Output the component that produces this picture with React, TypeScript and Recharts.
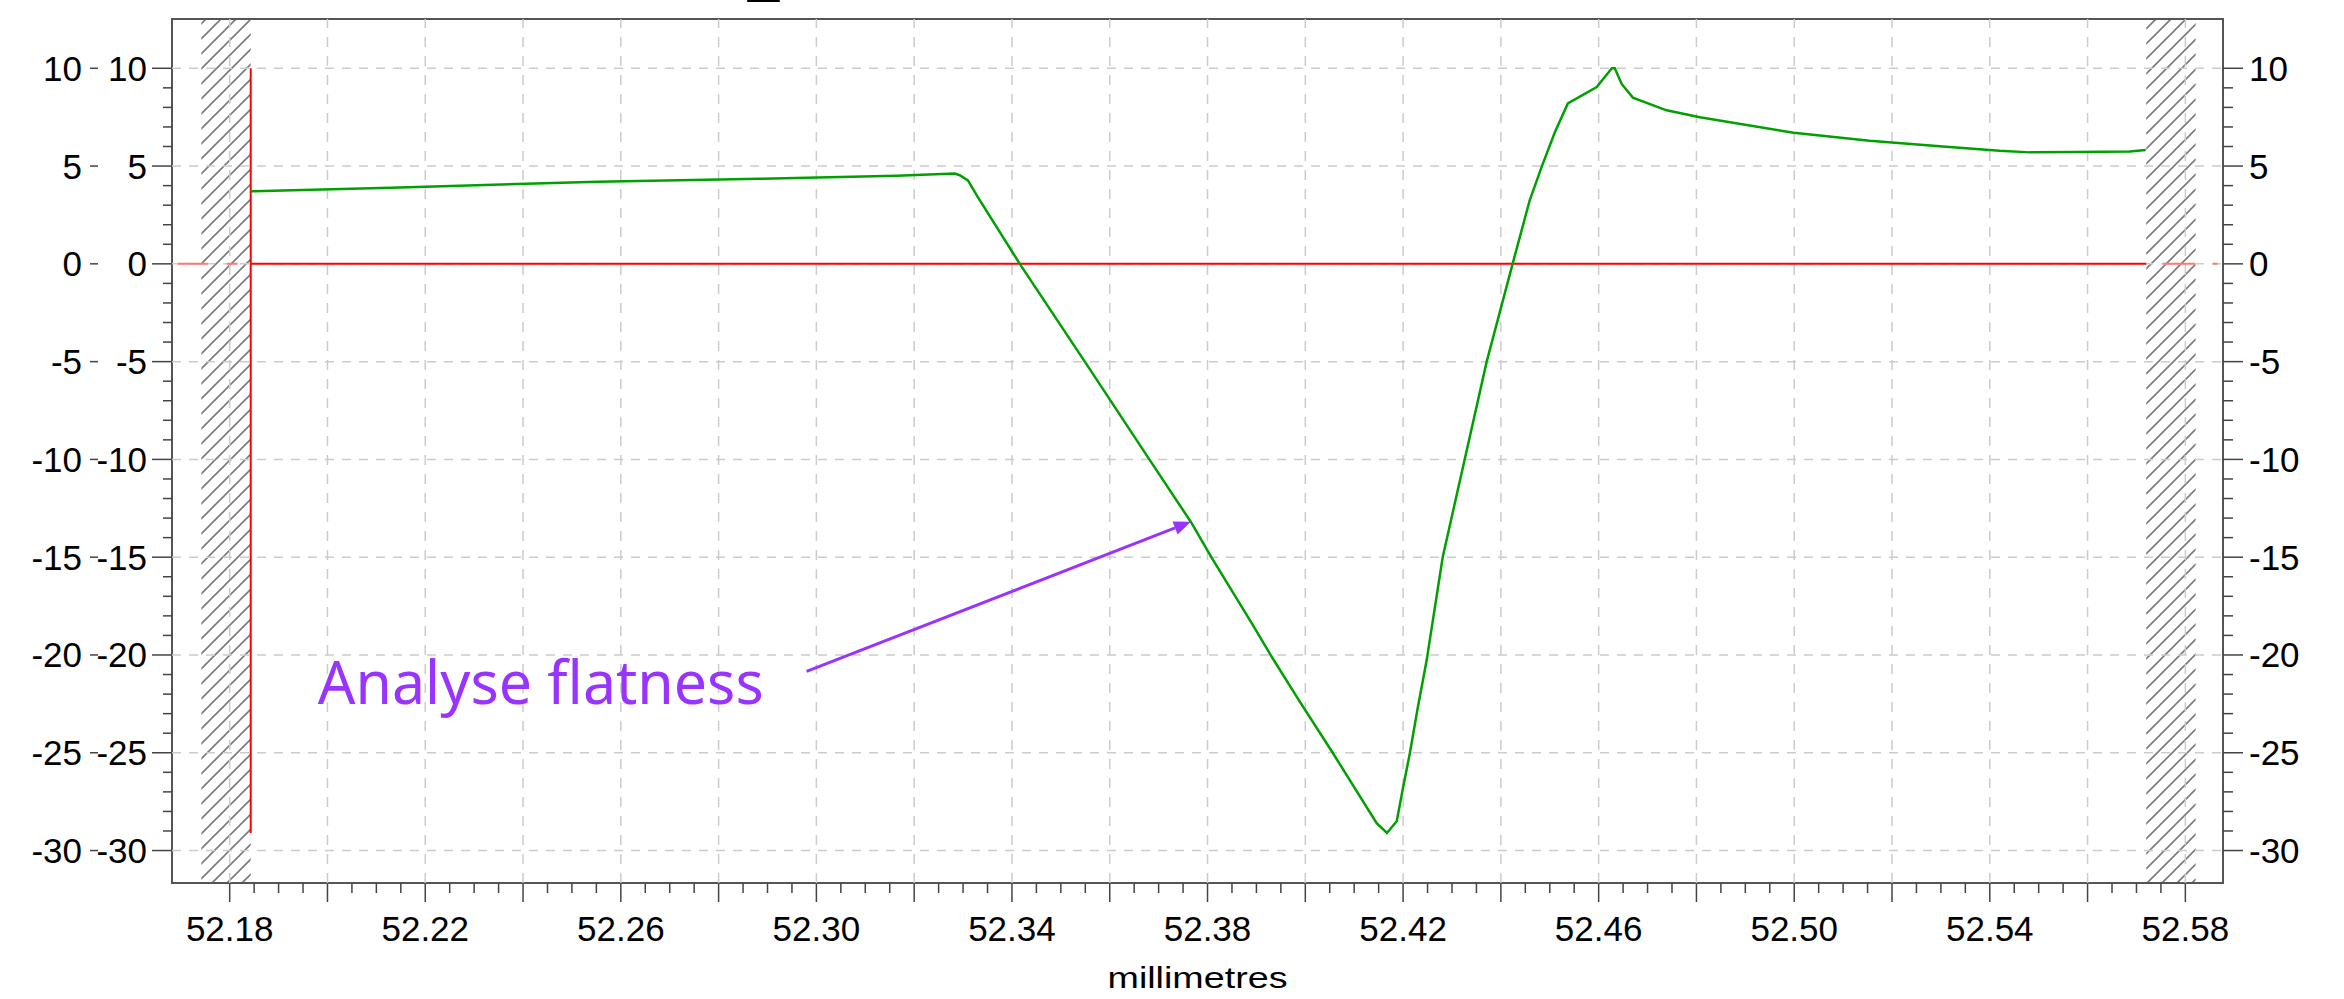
import {
  LineChart,
  Line,
  XAxis,
  YAxis,
  ReferenceLine,
  ReferenceArea,
  ReferenceDot,
} from "recharts";

// measured profile (millimetres vs deviation)
const profileX = [
  52.1843, 52.2148, 52.2553, 52.2884, 52.3164, 52.3283, 52.3293, 52.331, 52.3328, 52.3416,
  52.3549, 52.3681, 52.3766, 52.3809, 52.3891, 52.3929, 52.3989, 52.4056, 52.4146, 52.4167,
  52.4187, 52.4199, 52.4214, 52.423, 52.4248, 52.4281, 52.4326, 52.4371, 52.4424, 52.4459,
  52.4484, 52.451, 52.4537, 52.4596, 52.4627, 52.4633, 52.4647, 52.467, 52.4739, 52.4807,
  52.4999, 52.5154, 52.5304, 52.542, 52.5482, 52.5574, 52.5686, 52.5719,
];
const profileY = [
  3.71, 3.9, 4.2, 4.35, 4.5, 4.62, 4.53, 4.27, 3.5, 0,
  -5, -10, -13.2, -15.05, -18.4, -20, -22.4, -25, -28.6, -29.1,
  -28.5, -26.9, -25, -22.7, -20.3, -15, -10, -5, 0, 3.25,
  5, 6.7, 8.2, 9.04, 10, 10, 9.2, 8.5, 7.85, 7.5,
  6.7, 6.3, 6.0, 5.78, 5.7, 5.72, 5.75, 5.82,
];

const xDomain = [52.1682, 52.5877];
const yDomain = [-31.66, 12.52];

const xLabelTicks = [52.18, 52.22, 52.26, 52.3, 52.34, 52.38, 52.42, 52.46, 52.5, 52.54, 52.58];
const xGridLines = [
  52.18, 52.2, 52.22, 52.24, 52.26, 52.28, 52.3, 52.32, 52.34, 52.36, 52.38,
  52.4, 52.42, 52.44, 52.46, 52.48, 52.5, 52.52, 52.54, 52.56, 52.58,
];
const yLabelTicks = [-30, -25, -20, -15, -10, -5, 0, 5, 10];
const xMinorTicks = Array.from({ length: 81 }, (_, i) => Math.round((52.18 + i * 0.005) * 1000) / 1000);
const yMinorTicks = Array.from({ length: 41 }, (_, i) => i - 30);

// evaluation window (hatched outside) and data range marker
const leftHatch = [52.1742, 52.1843];
const rightHatch = [52.572, 52.5821];
const windowStart = 52.1843;
const windowEnd = 52.572;
const rangeMin = -29.1;
const rangeMax = 10;
const zeroOutsideLeft = [52.1694, 52.1816];
const zeroOutsideRight = [52.5754, 52.5866];

const noteText = "Analyse flatness";
const noteAt = { x: 52.198, y: -22.52 };
const arrowFrom = { x: 52.298, y: -20.84 };
const arrowTo = { x: 52.3766, y: -13.19 };

const FONT = "'Liberation Sans', Arial, Helvetica, sans-serif";
const PURPLE = "#9933ff";

function XTick(props: any) {
  const { x, y, payload } = props;
  const v = payload.value;
  const major = Math.abs(v * 50 - Math.round(v * 50)) < 1e-6;
  const labelled = xLabelTicks.some((t) => Math.abs(t - v) < 1e-6);
  return (
    <g>
      <line x1={x} x2={x} y1={y} y2={y + (major ? 19 : 10)} stroke="#444" strokeWidth={1.5} />
      {labelled && (
        <text x={x} y={y + 58} textAnchor="middle" fontFamily={FONT} fontSize={35} fill="#000">
          {v.toFixed(2)}
        </text>
      )}
    </g>
  );
}

function LeftTick(props: any) {
  const { x, y, payload } = props;
  const v = payload.value;
  const major = v % 5 === 0;
  return (
    <g>
      <line x1={x - (major ? 20 : 9)} x2={x} y1={y} y2={y} stroke="#444" strokeWidth={1.5} />
      {major && (
        <text x={x - 25} y={y + 12.5} textAnchor="end" fontFamily={FONT} fontSize={35} fill="#000">
          {v}
        </text>
      )}
    </g>
  );
}

function OuterTick(props: any) {
  const { x, y, payload } = props;
  return (
    <g>
      <line x1={x - 8} x2={x} y1={y} y2={y} stroke="#444" strokeWidth={1.5} />
      <text x={x - 16} y={y + 12.5} textAnchor="end" fontFamily={FONT} fontSize={35} fill="#000">
        {payload.value}
      </text>
    </g>
  );
}

function RightTick(props: any) {
  const { x, y, payload } = props;
  const v = payload.value;
  const major = v % 5 === 0;
  return (
    <g>
      <line x1={x} x2={x + (major ? 20 : 10)} y1={y} y2={y} stroke="#444" strokeWidth={1.5} />
      {major && (
        <text x={x + 26} y={y + 12.5} textAnchor="start" fontFamily={FONT} fontSize={35} fill="#000">
          {v}
        </text>
      )}
    </g>
  );
}

function AxisTitle(props: any) {
  const vb = props.viewBox || { x: 172, y: 883, width: 2051, height: 116 };
  return (
    <text
      x={vb.x + vb.width / 2}
      y={vb.y + vb.height - 11}
      textAnchor="middle"
      fontFamily={FONT}
      fontSize={29}
      textLength={180}
      lengthAdjust="spacingAndGlyphs"
      fill="#000"
    >
      millimetres
    </text>
  );
}

function Arrow(props: any) {
  const { x1, y1, x2, y2 } = props;
  const a = Math.atan2(y2 - y1, x2 - x1);
  const len = 17;
  const half = 7;
  const bx = x2 - len * Math.cos(a);
  const by = y2 - len * Math.sin(a);
  const pts = `${x2},${y2} ${bx + half * Math.sin(a)},${by - half * Math.cos(a)} ${bx - half * Math.sin(a)},${by + half * Math.cos(a)}`;
  return (
    <g>
      <line x1={x1} y1={y1} x2={bx} y2={by} stroke={PURPLE} strokeWidth={3} />
      <polygon points={pts} fill={PURPLE} />
    </g>
  );
}

export default function App() {
  const data = profileX.map((x, i) => ({ x, y: profileY[i] }));

  return (
    <div style={{ position: "absolute", left: 0, top: 0, width: 2344, height: 999, background: "#fff" }}>
      <LineChart width={2344} height={999} data={data} margin={{ top: 19, right: 0, bottom: 0, left: 0 }}>
        <defs>
          <pattern id="hatch" patternUnits="userSpaceOnUse" width={15} height={15}>
            <path d="M-2,2 L2,-2 M0,15 L15,0 M13,17 L17,13" stroke="#7a7a7a" strokeWidth={1.6} />
          </pattern>
        </defs>
        <XAxis
          type="number"
          dataKey="x"
          domain={xDomain}
          allowDataOverflow
          ticks={xMinorTicks}
          interval={0}
          height={116}
          tickSize={0}
          tickMargin={0}
          axisLine={false}
          tickLine={false}
          tick={(p: any) => <XTick {...p} />}
          label={<AxisTitle />}
        />
        <YAxis
          type="number"
          domain={yDomain}
          allowDataOverflow
          ticks={yMinorTicks}
          interval={0}
          width={74}
          tickSize={0}
          tickMargin={0}
          axisLine={false}
          tickLine={false}
          tick={(p: any) => <LeftTick {...p} />}
        />
        <YAxis
          yAxisId="outer"
          type="number"
          domain={yDomain}
          allowDataOverflow
          ticks={yLabelTicks}
          interval={0}
          width={98}
          tickSize={0}
          tickMargin={0}
          axisLine={false}
          tickLine={false}
          tick={(p: any) => <OuterTick {...p} />}
        />
        <YAxis
          yAxisId="right"
          orientation="right"
          type="number"
          domain={yDomain}
          allowDataOverflow
          ticks={yMinorTicks}
          interval={0}
          width={121}
          tickSize={0}
          tickMargin={0}
          axisLine={false}
          tickLine={false}
          tick={(p: any) => <RightTick {...p} />}
        />

        {xGridLines.map((v) => (
          <ReferenceLine key={`gx-${v}`} x={v} stroke="#cccccc" strokeWidth={1.5} strokeDasharray="10 9" />
        ))}
        {yLabelTicks.map((v) => (
          <ReferenceLine key={`gy-${v}`} y={v} stroke="#cccccc" strokeWidth={1.5} strokeDasharray="9 8" />
        ))}

        <ReferenceArea x1={leftHatch[0]} x2={leftHatch[1]} y1={yDomain[0]} y2={yDomain[1]} fill="url(#hatch)" fillOpacity={1} />
        <ReferenceArea x1={rightHatch[0]} x2={rightHatch[1]} y1={yDomain[0]} y2={yDomain[1]} fill="url(#hatch)" fillOpacity={1} />

        <ReferenceLine
          segment={[{ x: zeroOutsideLeft[0], y: 0 }, { x: zeroOutsideLeft[1], y: 0 }]}
          stroke="#ff7777"
          strokeWidth={2}
          strokeDasharray="30 19"
        />
        <ReferenceLine
          segment={[{ x: zeroOutsideRight[0], y: 0 }, { x: zeroOutsideRight[1], y: 0 }]}
          stroke="#ff7777"
          strokeWidth={2}
          strokeDasharray="32 18"
        />
        <ReferenceLine
          segment={[{ x: windowStart, y: 0 }, { x: windowEnd, y: 0 }]}
          stroke="#ff0000"
          strokeWidth={2}
        />
        <ReferenceLine
          segment={[{ x: windowStart, y: rangeMax }, { x: windowStart, y: rangeMin }]}
          stroke="#ff0000"
          strokeWidth={2}
        />

        <Line
          type="linear"
          dataKey="y"
          stroke="#00a000"
          strokeWidth={2.5}
          dot={false}
          activeDot={false}
          isAnimationActive={false}
        />

        <ReferenceLine segment={[arrowFrom, arrowTo]} shape={(p: any) => <Arrow {...p} />} />
        <ReferenceDot
          x={noteAt.x}
          y={noteAt.y}
          r={0}
          shape={(p: any) => (
            <text
              x={p.cx}
              y={p.cy}
              fontFamily="'Noto Sans', 'Open Sans', sans-serif"
              fontSize={61}
              textLength={446}
              lengthAdjust="spacingAndGlyphs"
              fill={PURPLE}
            >
              {noteText}
            </text>
          )}
        />
        <ReferenceDot
          x={52.286}
          y={yDomain[1]}
          r={0}
          shape={(p: any) => (
            <text x={p.cx} y={p.cy - 28} fontFamily={FONT} fontSize={56} fill="#000">
              _
            </text>
          )}
        />

        <ReferenceArea
          x1={xDomain[0]}
          x2={xDomain[1]}
          y1={yDomain[0]}
          y2={yDomain[1]}
          fill="none"
          stroke="#555"
          strokeWidth={2}
        />
      </LineChart>
    </div>
  );
}
